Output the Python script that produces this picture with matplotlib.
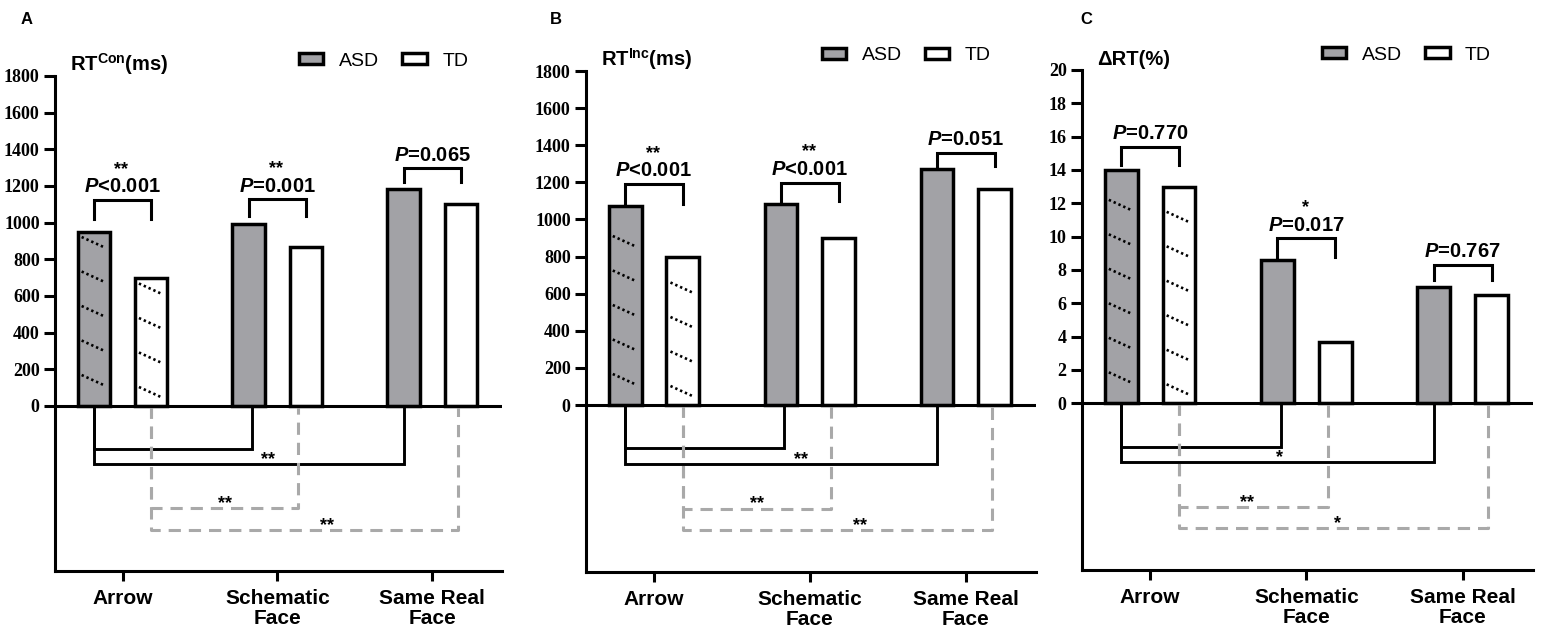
import matplotlib
matplotlib.use("Agg")
import matplotlib.pyplot as plt
from matplotlib.patches import Patch
import numpy as np

plt.rcParams['mathtext.fontset'] = 'custom'
plt.rcParams['mathtext.rm'] = 'Liberation Sans'
plt.rcParams['mathtext.bf'] = 'Liberation Sans:bold'
plt.rcParams['mathtext.it'] = 'Liberation Sans:italic'
plt.rcParams['mathtext.bfit'] = 'Liberation Sans:italic:bold'

# ---- data ----
categories = ['Arrow', 'Schematic\nFace', 'Same Real\nFace']

rt_con_asd = [950, 995, 1185]
rt_con_td = [700, 870, 1100]
rt_inc_asd = [1075, 1085, 1270]
rt_inc_td = [795, 900, 1165]
drt_asd = [14.0, 8.6, 7.0]
drt_td = [13.0, 3.7, 6.5]

p_con = [r'$\mathbfit{P}$<0.001', r'$\mathbfit{P}$=0.001', r'$\mathbfit{P}$=0.065']
p_inc = [r'$\mathbfit{P}$<0.001', r'$\mathbfit{P}$<0.001', r'$\mathbfit{P}$=0.051']
p_drt = [r'$\mathbfit{P}$=0.770', r'$\mathbfit{P}$=0.017', r'$\mathbfit{P}$=0.767']
star_con = ['**', '**', '']
star_inc = ['**', '**', '']
star_drt = ['', '*', '']
# stars for the within-group comparisons below zero: ASD arrow-vs-others, TD arrow-vs-schematic, TD arrow-vs-real
below_con = ['**', '**', '**']
below_inc = ['**', '**', '**']
below_drt = ['*', '**', '*']

GRAY = '#a2a2a6'
DASH = '#a9a9a9'
W = 0.21
OFF = 0.185
LW = 2.2
BAR_LW = 2.5

fig = plt.figure(figsize=(15.42, 6.38), dpi=100)

panels = [
    dict(rect=[55/1542, 67/638, 447/1542, 495/638], asd=rt_con_asd, td=rt_con_td,
         ymax=1800, ystep=200, title=r'$\mathbf{RT^{Con}(ms)}$', p=p_con, star=star_con,
         btop=[1123, 1128, 1297], bleg=[1019, 1035, 1221], below=below_con,
         below_x=[0.94, 0.66, 1.32], leg_x=0.546, letter='A', letter_x=21),
    dict(rect=[586/1542, 66/638, 450/1542, 501/638], asd=rt_inc_asd, td=rt_inc_td,
         ymax=1800, ystep=200, title=r'$\mathbf{RT^{Inc}(ms)}$', p=p_inc, star=star_inc,
         btop=[1191, 1197, 1358], bleg=[1083, 1100, 1288], below=below_inc,
         below_x=[0.94, 0.66, 1.32], leg_x=0.524, letter='B', letter_x=550),
    dict(rect=[1082/1542, 68/638, 451/1542, 500/638], asd=drt_asd, td=drt_td,
         ymax=20, ystep=2, title='ΔRT(%)', p=p_drt, star=star_drt,
         btop=[15.4, 9.9, 8.3], bleg=[14.3, 8.8, 7.4], below=below_drt,
         below_x=[0.83, 0.62, 1.2], leg_x=0.532, letter='C', letter_x=1080),
]


def dotted_hatch(ax, bar, start):
    # dotted diagonal pattern, spaced in pixels like the original fill
    inv = ax.transData.inverted()
    x0 = bar.get_x()
    w = bar.get_width()
    h = bar.get_height()
    px0, py0 = ax.transData.transform((x0, 0))
    px1, py1 = ax.transData.transform((x0 + w, h))
    k = 0
    while True:
        hl = start + 34.5 * k
        if hl > (py1 - py0) - 4:
            break
        a = (px0 + 4, py0 + hl)
        b = (px1 - 5, py0 + hl - 0.455 * (px1 - px0 - 9))
        pts = inv.transform([a, b])
        ax.plot(pts[:, 0], pts[:, 1], color='black', lw=1.9,
                linestyle=(0, (0.9, 1.1)), zorder=4)
        k += 1


for pn in panels:
    ax = fig.add_axes(pn['rect'])
    ymax = pn['ymax']
    ax.set_xlim(-0.436, 2.45)
    ax.set_ylim(-ymax / 2, ymax)
    x = np.arange(len(categories))
    xa = x - OFF
    xt = x + OFF
    bars_a = ax.bar(xa, pn['asd'], W, color=GRAY, edgecolor='black', lw=BAR_LW, zorder=3)
    bars_t = ax.bar(xt, pn['td'], W, color='white', edgecolor='black', lw=BAR_LW, zorder=3)
    ax.axhline(0, color='black', lw=LW, zorder=5)

    for s in ['top', 'right']:
        ax.spines[s].set_visible(False)
    for s in ['left', 'bottom']:
        ax.spines[s].set_linewidth(LW)
    yt = np.arange(0, ymax + ymax * 0.01, pn['ystep'])
    ax.set_yticks(yt)
    ax.set_yticklabels([f'{v:g}' for v in yt],
                       family='Liberation Serif', fontweight='bold', fontsize=13)
    ax.set_xticks(x)
    ax.set_xticklabels(categories, family='Liberation Sans', fontweight='bold',
                       fontsize=15, linespacing=1.05)
    ax.tick_params(axis='y', length=8, width=LW, pad=3)
    ax.tick_params(axis='x', length=7, width=LW, pad=6)

    # hatched arrow bars
    dotted_hatch(ax, bars_a[0], 31)
    dotted_hatch(ax, bars_t[0], 19)

    # between-group brackets
    for i in range(3):
        top = pn['btop'][i]
        leg = pn['bleg'][i]
        ax.plot([xa[i], xa[i], xt[i], xt[i]], [leg, top, top, leg], color='black',
                lw=LW, solid_joinstyle='miter', zorder=4)
        xm = (xa[i] + xt[i]) / 2
        ax.annotate(pn['p'][i], (xm, top), xytext=(0, 5.5), textcoords='offset points',
                    ha='center', va='baseline', family='Liberation Sans',
                    fontweight='bold', fontsize=14.5)
        if pn['star'][i]:
            ax.annotate(pn['star'][i], (xm, top), xytext=(-1, 19), textcoords='offset points',
                        ha='center', va='baseline', family='Liberation Sans',
                        fontweight='bold', fontsize=13)

    # within-group brackets below zero
    y1, y2, y3, y4 = -0.13 * ymax, -0.176 * ymax, -0.31 * ymax, -0.375 * ymax
    ax.plot([xa[0], xa[0], xa[1] + 0.02, xa[1] + 0.02], [0, y1, y1, 0], color='black',
            lw=LW * 0.95, solid_joinstyle='miter', zorder=4)
    ax.plot([xa[0], xa[0], xa[2], xa[2]], [0, y2, y2, 0], color='black', lw=LW * 0.95,
            solid_joinstyle='miter', zorder=4)
    ax.plot([xt[0], xt[0], xt[1] - 0.05, xt[1] - 0.05], [0, y3, y3, 0], color=DASH, lw=2.2,
            linestyle=(0, (4.0, 2.6)), zorder=4)
    ax.plot([xt[0], xt[0], xt[2] - 0.02, xt[2] - 0.02], [0, y4, y4, 0], color=DASH, lw=2.2,
            linestyle=(0, (4.0, 2.6)), zorder=4)
    for lab, xs, ys in zip(pn['below'], pn['below_x'], [y2, y3, y4]):
        ax.annotate(lab, (xs, ys), xytext=(0, 0), textcoords='offset points',
                    ha='center', va='baseline', family='Liberation Sans',
                    fontweight='bold', fontsize=13)

    ax.text(0.034, 1.01, pn['title'], transform=ax.transAxes, ha='left', va='baseline',
            family='Liberation Sans', fontweight='bold', fontsize=14.5)

    handles = [Patch(facecolor=GRAY, edgecolor='black', lw=BAR_LW, label='ASD'),
               Patch(facecolor='white', edgecolor='black', lw=BAR_LW, label='TD')]
    ax.legend(handles=handles, ncol=2, frameon=False, loc='center left',
              bbox_to_anchor=(pn['leg_x'], 1.03), borderpad=0, borderaxespad=0,
              handlelength=1.25, handleheight=0.5, handletextpad=0.8, columnspacing=1.2,
              prop=dict(family='Liberation Sans', size=14))

    fig.text(pn['letter_x'] / 1542, 1 - 24 / 638, pn['letter'], ha='left', va='baseline',
             family='Liberation Sans', fontweight='bold', fontsize=12)

fig.savefig('out.png', dpi=100)
